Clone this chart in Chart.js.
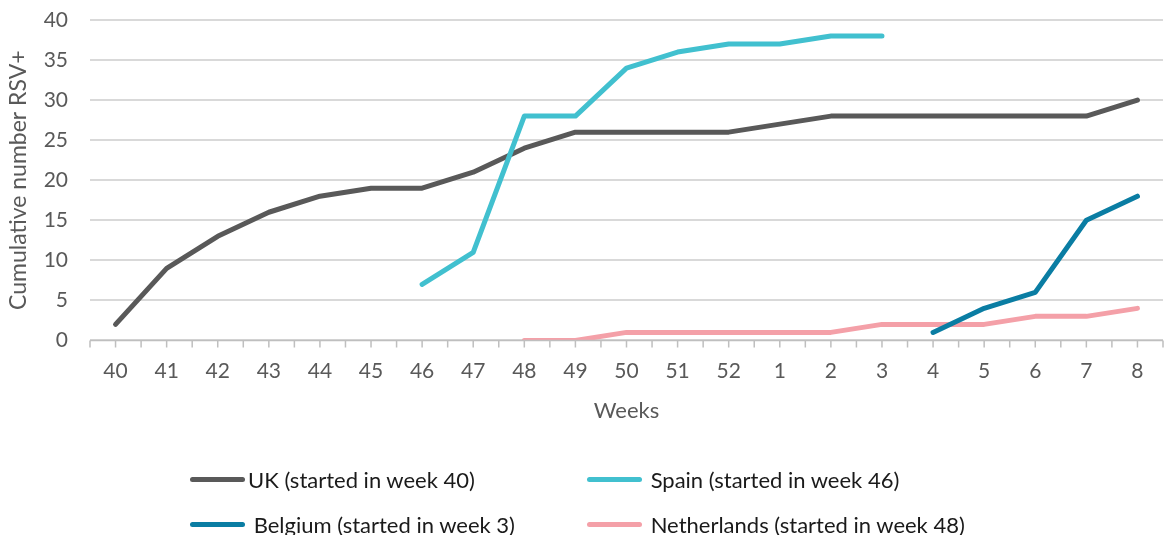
<!DOCTYPE html>
<html>
<head>
<meta charset="utf-8">
<script src="https://cdn.jsdelivr.net/npm/chart.js@4/dist/chart.umd.min.js"></script>
<style>
  body { margin: 0; background: #fff; }
  .wrap { position: relative; width: 1167px; height: 535px; }
  .leyenda { position: absolute; left: 0; top: 0; width: 1167px; height: 535px; pointer-events: none;
    font-family: Lato, "Open Sans", sans-serif; font-size: 22px; color: #1a1a1a; }
  .item { position: absolute; display: flex; align-items: center; white-space: pre; }
  .item span.linea { display: inline-block; width: 55px; height: 5px; border-radius: 3px; margin-right: 3px; }
</style>
</head>
<body>
<div class="wrap">
  <canvas id="myChart" width="1167" height="535"></canvas>
  <div class="leyenda" id="leyenda"></div>
</div>
<script>
const semanas = ["40", "41", "42", "43", "44", "45", "46", "47", "48", "49", "50", "51", "52", "1", "2", "3", "4", "5", "6", "7", "8"];

const uk = [2, 9, 13, 16, 18, 19, 19, 21, 24, 26, 26, 26, 26, 27, 28, 28, 28, 28, 28, 28, 30];
const spain = [null, null, null, null, null, null, 7, 11, 28, 28, 34, 36, 37, 37, 38, 38, null, null, null, null, null];
const belgium = [null, null, null, null, null, null, null, null, null, null, null, null, null, null, null, null, 1, 4, 6, 15, 18];
const netherlands = [null, null, null, null, null, null, null, null, 0, 0, 1, 1, 1, 1, 1, 2, 2, 2, 3, 3, 4];

const nombres = ["UK (started in week 40)", "Spain (started in week 46)", " Belgium (started in week 3)", "Netherlands (started in week 48)"];
const colores = ["#595959", "#41c0cf", "#0a7da3", "#f4a0a8"];

// marcas del eje x en el centro y en el borde de cada categoria
const marcasX = {
  id: "marcasX",
  afterDraw(chart) {
    const x = chart.scales.x;
    const ctx = chart.ctx;
    const ancho = x.getPixelForValue(1) - x.getPixelForValue(0);
    ctx.save();
    ctx.strokeStyle = "#bfbfbf";
    ctx.lineWidth = 1.5;
    ctx.beginPath();
    ctx.moveTo(x.left, x.top);
    ctx.lineTo(x.right, x.top);
    for (let i = 0; i < semanas.length; i++) {
      const px = x.getPixelForValue(i);
      [px - ancho / 2, px].forEach((p) => {
        ctx.moveTo(p, x.top);
        ctx.lineTo(p, x.top + 7);
      });
    }
    ctx.moveTo(x.right, x.top);
    ctx.lineTo(x.right, x.top + 7);
    ctx.stroke();
    ctx.restore();
  },
};

function serie(i, data, orden) {
  return {
    label: nombres[i],
    data,
    borderColor: colores[i],
    backgroundColor: colores[i],
    borderWidth: 5,
    borderCapStyle: "round",
    borderJoinStyle: "round",
    pointRadius: 0,
    tension: 0,
    spanGaps: false,
    order: orden,
  };
}

const config = {
  type: "line",
  data: {
    labels: semanas,
    datasets: [serie(0, uk, 4), serie(1, spain, 3), serie(2, belgium, 1), serie(3, netherlands, 2)],
  },
  options: {
    responsive: false,
    animation: false,
    layout: { padding: { top: 20, right: 4, bottom: 111, left: 4 } },
    plugins: { legend: { display: false }, tooltip: { enabled: false } },
    scales: {
      x: {
        offset: true,
        grid: { display: false, drawTicks: false },
        border: { display: false },
        ticks: { color: "#595959", font: { family: "Lato", size: 21 }, padding: 18, maxRotation: 0, autoSkip: false },
        title: { display: true, text: "Weeks", color: "#595959", font: { family: "Lato", size: 22 }, padding: { top: -4, bottom: 0 } },
      },
      y: {
        min: 0,
        max: 40,
        afterFit(scale) {
          scale.width = 86;
        },
        ticks: { stepSize: 5, color: "#595959", font: { family: "Lato", size: 21 }, padding: 0 },
        // el hueco entre etiquetas y area se deja con marcas invisibles
        grid: { color: "#d9d9d9", lineWidth: 2, drawTicks: true, tickLength: 22, tickColor: "rgba(0,0,0,0)" },
        border: { display: false },
        title: { display: true, text: "Cumulative number RSV+", color: "#595959", font: { family: "Lato", size: 23 }, padding: { top: 1, bottom: 0 } },
      },
    },
  },
  plugins: [marcasX],
};

new Chart(document.getElementById("myChart"), config);

// leyenda en dos columnas
const posiciones = [[190, 480], [587, 480], [190, 525], [587, 525]];
const leyenda = document.getElementById("leyenda");
nombres.forEach((nombre, i) => {
  const div = document.createElement("div");
  div.className = "item";
  div.style.left = posiciones[i][0] + "px";
  div.style.top = (posiciones[i][1] - 14) + "px";
  div.innerHTML = `<span class="linea" style="background:${colores[i]}"></span>${i % 2 === 1 ? " " : ""}${nombre}`;
  leyenda.appendChild(div);
});
</script>
</body>
</html>
